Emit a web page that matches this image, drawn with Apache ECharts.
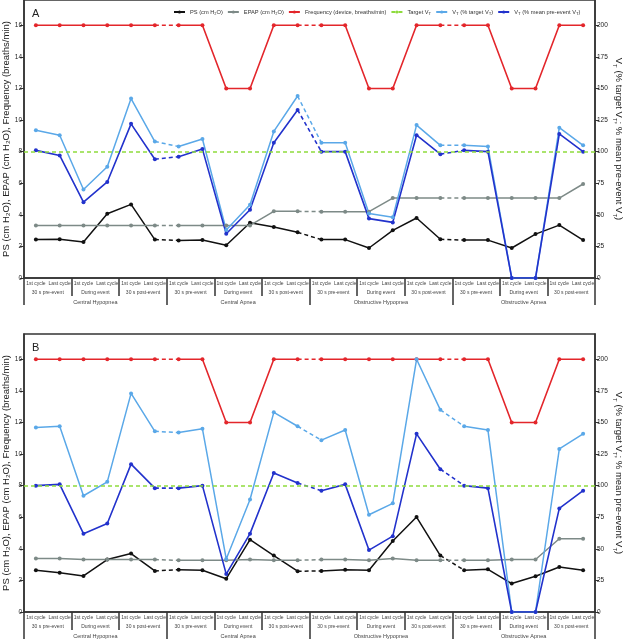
<!DOCTYPE html>
<html><head><meta charset="utf-8">
<script src="https://cdn.jsdelivr.net/npm/echarts@6/dist/echarts.min.js"></script>
<style>html,body{margin:0;padding:0;background:#fff}#c{width:625px;height:639px}</style>
</head><body><div id="c"></div>
<script>
// ---------- categories / labels ----------
const cycleLabels = ['1st cycle','Last cycle','1st cycle','Last cycle','1st cycle','Last cycle',
  '1st cycle','Last cycle','1st cycle','Last cycle','1st cycle','Last cycle',
  '1st cycle','Last cycle','1st cycle','Last cycle','1st cycle','Last cycle',
  '1st cycle','Last cycle','1st cycle','Last cycle','1st cycle','Last cycle'];
const phaseLabels = ['30 s pre-event','During event','30 s post-event',
  '30 s pre-event','During event','30 s post-event',
  '30 s pre-event','During event','30 s post-event',
  '30 s pre-event','During event','30 s post-event'];
const eventLabels = ['Central Hypopnea','Central Apnea','Obstructive Hypopnea','Obstructive Apnea'];
const leftTicks = [0,2,4,6,8,10,12,14,16];
const rightTicks = [0,25,50,75,100,125,150,175,200];
const targetVt = 100;

// ---------- panel A ----------
const psA = [2.43,2.45,2.28,4.07,4.66,2.43,2.38,2.40,2.07,3.50,3.23,2.89,2.43,2.43,1.90,3.02,3.80,2.45,2.40,2.40,1.90,2.78,3.35,2.40];
const epapA = [3.33,3.33,3.33,3.33,3.33,3.33,3.33,3.33,3.33,3.33,4.22,4.22,4.20,4.20,4.20,5.06,5.06,5.06,5.06,5.06,5.06,5.06,5.06,5.95];
const freqA = [16,16,16,16,16,16,16,16,12,12,16,16,16,16,12,12,16,16,16,16,12,12,16,16];
const vtTargetA = [117,113,70,88,142,108,104,110,38,58,116,144,107,107,51,48,121,105,105,104,0,0,119,105];
const vtMeanA = [101,97,60,76,122,94,96,102,35,54,107,133,100,100,47,44,113,98,101,100,0,0,114,100];

// ---------- panel B ----------
const psB = [2.64,2.49,2.28,3.32,3.70,2.60,2.68,2.64,2.11,4.58,3.57,2.58,2.60,2.68,2.64,4.50,6.01,3.57,2.65,2.70,1.80,2.26,2.85,2.64];
const epapB = [3.38,3.38,3.32,3.32,3.32,3.32,3.27,3.27,3.27,3.32,3.27,3.27,3.32,3.32,3.27,3.38,3.27,3.27,3.27,3.27,3.32,3.32,4.64,4.64];
const freqB = [16,16,16,16,16,16,16,16,12,12,16,16,16,16,16,16,16,16,16,16,12,12,16,16];
const vtTargetB = [146,147,92,103,173,143,142,145,42,89,158,147,136,144,77,86,200,160,147,144,0,0,129,141];
const vtMeanB = [100,101,62,70,117,98,98,100,30,62,110,102,96,101,49,60,141,113,100,98,0,0,82,96];

const C = {ps:'#111111', epap:'#7d8a87', freq:'#e3262b', target:'#8edb3d', vtt:'#5aa8e8', vtm:'#2232cc'};
const N = {ps:'PS', epap:'EPAP', freq:'Freq', target:'Target', vtt:'VTt', vtm:'VTm'};
const legendText = {
  PS:'PS (cm H\u2082O)', EPAP:'EPAP (cm H\u2082O)', Freq:'Frequency (device, breaths/min)',
  Target:'Target V{s|T}', VTt:'V{s|T} (% target V{s|T})', VTm:'V{s|T} (% mean pre-event V{s|T})'
};
const FONT = '"Liberation Sans", Arial, sans-serif';

function lineSeries(name, vals, xi, yi, color, width) {
  const out = [];
  for (let g = 0; g < 4; g++) {
    out.push({
      name, type:'line', xAxisIndex:xi, yAxisIndex:yi,
      data: vals.map((v,i) => Math.floor(i/6) === g ? v : null),
      symbol:'circle', symbolSize:4, showSymbol:true, showAllSymbol:true, connectNulls:false,
      lineStyle:{color, width}, itemStyle:{color}, animation:false
    });
  }
  out.push({
    name, type:'line', xAxisIndex:xi, yAxisIndex:yi,
    data: vals.map((v,i) => ((i % 6 === 5 && i < 23) || (i % 6 === 0 && i > 0)) ? v : null),
    symbol:'none', showSymbol:false, connectNulls:false,
    lineStyle:{color, width, type:[4,3]}, itemStyle:{color}, animation:false
  });
  return out;
}
function targetSeries(xi, yi) {
  return {
    name:N.target, type:'line', xAxisIndex:xi, yAxisIndex:yi,
    data: cycleLabels.map(() => null), symbol:'none',
    lineStyle:{color:C.target, width:1.5, type:[4,3]}, itemStyle:{color:C.target}, animation:false,
    markLine:{silent:true, symbol:'none', label:{show:false}, animation:false,
      lineStyle:{color:C.target, width:1.5, type:[4,3]}, data:[{yAxis:targetVt}]}
  };
}
function panelSeries(ps, epap, freq, vtt, vtm, xi, yl, yr) {
  return [].concat(
    lineSeries(N.ps, ps, xi, yl, C.ps, 1.5),
    lineSeries(N.epap, epap, xi, yl, C.epap, 1.5),
    lineSeries(N.freq, freq, xi, yl, C.freq, 1.6),
    [targetSeries(xi, yr)],
    lineSeries(N.vtt, vtt, xi, yr, C.vtt, 1.5),
    lineSeries(N.vtm, vtm, xi, yr, C.vtm, 1.6)
  );
}
const axisColor = '#333';
function xAxes(gi) {
  return [
    {type:'category', gridIndex:gi, position:'bottom', data:cycleLabels,
      axisLine:{show:true, onZero:false, lineStyle:{color:axisColor, width:1.5}},
      axisTick:{show:false}, splitLine:{show:false},
      axisLabel:{interval:0, fontSize:5, margin:3, color:'#444', fontFamily:FONT}},
    {type:'category', gridIndex:gi, position:'bottom', data:phaseLabels.map((_,i)=>'p'+i),
      axisLine:{show:false, onZero:false}, splitLine:{show:false},
      axisTick:{show:true, interval:0, length:18, lineStyle:{color:axisColor, width:1.5}},
      axisLabel:{interval:0, fontSize:5, margin:12, color:'#444', fontFamily:FONT,
        formatter:(v,i)=>phaseLabels[i]}},
    {type:'category', gridIndex:gi, position:'bottom', data:eventLabels.map((_,i)=>'e'+i),
      axisLine:{show:false, onZero:false}, splitLine:{show:false},
      axisTick:{show:true, interval:0, length:27, lineStyle:{color:axisColor, width:1.5}},
      axisLabel:{interval:0, fontSize:5.5, margin:21, color:'#444', fontFamily:FONT,
        formatter:(v,i)=>eventLabels[i]}}
  ];
}
const subRich = {s:{fontSize:6, verticalAlign:'bottom', lineHeight:13, padding:[4,0,0,0]}, n:{fontSize:9.5, lineHeight:13}};
function yAxes(gi) {
  return [
    {type:'value', gridIndex:gi, position:'left', min:0, max:17.6, interval:2,
      name:'PS (cm H\u2082O), EPAP (cm H\u2082O), Frequency (breaths/min)',
      nameLocation:'middle', nameGap:13, nameRotate:90, nameMoveOverlap:false,
      nameTextStyle:{fontSize:9.5, color:'#222', fontFamily:FONT},
      axisLine:{show:true, lineStyle:{color:axisColor, width:1.5}},
      axisTick:{show:true, length:4, customValues:leftTicks, lineStyle:{color:axisColor}},
      axisLabel:{customValues:leftTicks, fontSize:6.5, margin:2, color:'#222', fontFamily:FONT,
        formatter:v => (v % 2 === 0 && v <= 16) ? String(v) : ''},
      splitLine:{show:false}},
    {type:'value', gridIndex:gi, position:'right', min:0, max:220, interval:25,
      name:'{n|V}{s|T}{n| (% target V}{s|T}{n|; % mean pre-event V}{s|T}{n|)}',
      nameLocation:'middle', nameGap:17, nameRotate:-90, nameMoveOverlap:false,
      nameTextStyle:{fontSize:9.5, color:'#222', fontFamily:FONT, rich:subRich},
      axisLine:{show:true, lineStyle:{color:axisColor, width:1.5}},
      axisTick:{show:true, length:4, customValues:rightTicks, lineStyle:{color:axisColor}},
      axisLabel:{customValues:rightTicks, fontSize:6.5, margin:2, color:'#222', fontFamily:FONT,
        formatter:v => (v % 25 === 0 && v <= 200) ? String(v) : ''},
      splitLine:{show:false}}
  ];
}

const option = {
  backgroundColor:'#fff',
  animation:false,
  textStyle:{fontFamily:FONT},
  title:[
    {text:'A', left:27, top:3, textStyle:{fontSize:11, fontWeight:'normal', color:'#222', fontFamily:FONT}},
    {text:'B', left:27, top:337, textStyle:{fontSize:11, fontWeight:'normal', color:'#222', fontFamily:FONT}}
  ],
  legend:{
    top:4, left:168, itemGap:4, itemWidth:11, itemHeight:4,
    data:[N.ps, N.epap, N.freq, N.target, N.vtt, N.vtm],
    formatter:name => legendText[name],
    textStyle:{fontSize:5.7, color:'#333', fontFamily:FONT, rich:{s:{fontSize:4.3, verticalAlign:'bottom', padding:[3,0,0,0]}}}
  },
  grid:[
    {left:24, right:30, top:0, height:278, outerBoundsMode:'none', containLabel:false, show:true, borderColor:axisColor, borderWidth:1.5, backgroundColor:'#fff'},
    {left:24, right:30, top:334, height:278, outerBoundsMode:'none', containLabel:false, show:true, borderColor:axisColor, borderWidth:1.5, backgroundColor:'#fff'}
  ],
  xAxis:[].concat(xAxes(0), xAxes(1)),
  yAxis:[].concat(yAxes(0), yAxes(1)),
  series:[].concat(
    panelSeries(psA, epapA, freqA, vtTargetA, vtMeanA, 0, 0, 1),
    panelSeries(psB, epapB, freqB, vtTargetB, vtMeanB, 3, 2, 3)
  )
};
const chart = echarts.init(document.getElementById('c'), null, {renderer:'canvas'});
chart.setOption(option);
</script>
</body></html>
